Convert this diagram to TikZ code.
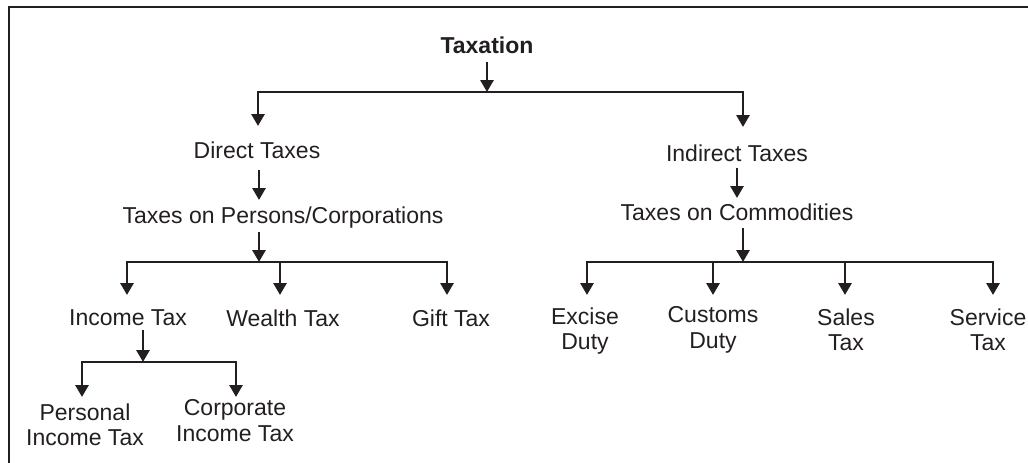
\documentclass[tikz,border=0pt]{standalone}
\usepackage{fontspec}
\setmainfont{Liberation Sans}
\usetikzlibrary{arrows.meta}
\definecolor{ink}{RGB}{35,31,32}
\begin{document}
\begin{tikzpicture}[x=1pt, y=-1pt, line width=2.9pt, color=ink]
\tikzstyle{txt} = [anchor=north, inner sep=0pt, align=center, font=\fontsize{23}{25.5}\selectfont]
\tikzstyle{connector} = [-{Triangle[width=13pt,length=12pt]}]
\tikzstyle{fork} = [{Triangle[width=13pt,length=12pt]}-{Triangle[width=13pt,length=12pt]}]
\useasboundingbox (0,0) rectangle (1028,463);
% frame
\draw (9,470) -- (9,7) -- (1035,7);

\node[txt, font=\fontsize{23}{25.5}\selectfont\bfseries] (tax) at (487,35) {Taxation};
\node[txt] (direct) at (257,140) {Direct Taxes};
\node[txt] (persons) at (283,205) {Taxes on Persons/Corporations};
\node[txt] (income) at (128,308) {Income Tax};
\node[txt] (wealth) at (283,308) {Wealth Tax};
\node[txt] (gift) at (451,308) {Gift Tax};
\node[txt] (personal) at (85,402) {Personal\\Income Tax};
\node[txt] (corporate) at (235,398) {Corporate\\Income Tax};
\node[txt] (indirect) at (737,143) {Indirect Taxes};
\node[txt] (commod) at (737,202) {Taxes on Commodities};
\node[txt] (excise) at (585,306) {Excise\\Duty};
\node[txt] (customs) at (713,305) {Customs\\Duty};
\node[txt] (sales) at (846,307) {Sales\\Tax};
\node[txt] (service) at (988,307) {Service\\Tax};

% junctions on the bars
\coordinate (jTax) at (487,92);
\coordinate (jTaxL) at (258,92);
\coordinate (jTaxR) at (743,92);
\coordinate (jPers) at (259,262);
\coordinate (jPersL) at (127,262);
\coordinate (jPersM) at (280,262);
\coordinate (jPersR) at (447,262);
\coordinate (jInc) at (143,362);
\coordinate (jIncL) at (82,362);
\coordinate (jIncR) at (236,362);
\coordinate (jCom) at (743,262);
\coordinate (jComA) at (587,262);
\coordinate (jComB) at (713,262);
\coordinate (jComC) at (845,262);
\coordinate (jComD) at (993,262);

\draw[connector, shorten <=7pt] (tax.south -| jTax) -- (jTax);
\draw[fork, shorten <=14pt, shorten >=16pt] (jTaxL |- direct.north) -- (jTaxL) -- (jTaxR) -- (jTaxR |- indirect.north);
\draw[connector, shorten <=10pt, shorten >=5pt] (direct.south -| jPers) -- (jPers |- persons.north);
\draw[connector, shorten <=3pt] (persons.south -| jPers) -- (jPers);
\draw[fork, shorten <=13pt, shorten >=13pt] (jPersL |- income.north) -- (jPersL) -- (jPersR) -- (jPersR |- gift.north);
\draw[connector, shorten >=13pt] (jPersM) -- (jPersM |- wealth.north);
\draw[connector, shorten <=3pt] (income.south -| jInc) -- (jInc);
\draw[fork, shorten <=5pt, shorten >=1pt] (jIncL |- personal.north) -- (jIncL) -- (jIncR) -- (jIncR |- corporate.north);
\draw[connector, shorten <=5pt, shorten >=4pt] (indirect.south) -- (indirect.south |- commod.north);
\draw[connector, shorten <=6pt] (commod.south -| jCom) -- (jCom);
\draw[fork, shorten <=11pt, shorten >=12pt] (jComA |- excise.north) -- (jComA) -- (jComD) -- (jComD |- service.north);
\draw[connector, shorten >=10pt] (jComB) -- (jComB |- customs.north);
\draw[connector, shorten >=12pt] (jComC) -- (jComC |- sales.north);
\end{tikzpicture}
\end{document}
